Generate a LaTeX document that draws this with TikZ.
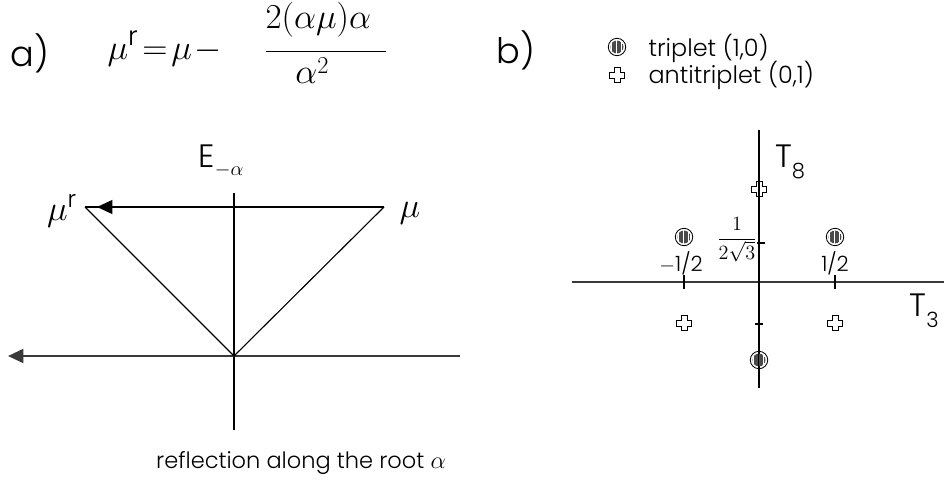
\documentclass[tikz,border=0pt]{standalone}
\usepackage{fontspec}
\setmainfont{Poppins Light}
\usetikzlibrary{arrows.meta, positioning, calc}
\definecolor{axgray}{HTML}{3A3A3A}
\definecolor{stripe}{HTML}{4A4A4A}

\newcommand{\lowsub}[2]{\raisebox{#1}{\fontsize{15}{15}\selectfont #2}}

\tikzset{
  triplet/.pic={
    \draw[line width=0.6pt] (0,0) circle (6.2pt);
    \begin{scope}
      \clip (0,0) circle (4.6pt);
      \foreach \s in {-5,...,5}
        \draw[stripe, line width=0.55pt] (\s*0.9pt,-5pt) -- (\s*0.9pt,5pt);
    \end{scope}
  },
  antitriplet/.pic={
    \draw[line width=0.6pt]
      (-2.1pt,-5.4pt) -- (2.1pt,-5.4pt) -- (2.1pt,-2.1pt) -- (5.4pt,-2.1pt)
      -- (5.4pt,2.1pt) -- (2.1pt,2.1pt) -- (2.1pt,5.4pt) -- (-2.1pt,5.4pt)
      -- (-2.1pt,2.1pt) -- (-5.4pt,2.1pt) -- (-5.4pt,-2.1pt) -- (-2.1pt,-2.1pt)
      -- cycle;
  }
}

\begin{document}
\begin{tikzpicture}[x=0.025cm, y=-0.025cm,
  >={Triangle[length=11pt, width=10pt]}, line width=0.8pt,
  axis/.style={axgray, line width=1.4pt},
  panel/.style={inner sep=0pt, font=\fontsize{25}{28}\selectfont},
  bigmath/.style={inner sep=0pt, font=\fontsize{24}{26}\selectfont},
  axlabel/.style={inner sep=0pt, font=\fontsize{23}{26}\selectfont},
  smalltext/.style={inner sep=0pt, font=\fontsize{17}{19}\selectfont},
  ticktext/.style={inner sep=0pt, font=\fontsize{15}{17}\selectfont}]

\useasboundingbox (0,0) rectangle (944,479);

% ---------- a) reflection ----------
\node[panel] (pa) at (30,53) {a)};
\node[inner sep=0pt, anchor=base west, font=\fontsize{27}{29}\selectfont]
  (formula) at (107,60)
  {$\displaystyle \mu^{\mathrm{r}}\!=\!\mu\!-\hspace{0.92em}
   \frac{2(\alpha\mu)\alpha\hspace{0.38em}\rule[-0.55em]{0pt}{0.55em}}{\alpha^{2}\hspace{0.7em}}$};

\coordinate (O) at (234,356);
\coordinate (mu) at (384,207);
\coordinate (mur) at (85,207);
\coordinate (Etop) at (234,193);
\coordinate (Ebot) at (234,430);
\coordinate (Hright) at (460,356);
\coordinate (Hleft) at (8,356);

\draw (Etop) -- (Ebot);
\draw[axis, ->] (Hright) -- (Hleft);
\draw (mur) -- (O) -- (mu);
\draw (mu) -- (mur);
\draw[->] (mu) -- ([xshift=0.3cm]mur);

\node[axlabel] (Elbl) at (221,161) {E\lowsub{-0.25em}{$-\alpha$}};
\node[bigmath] (murlbl) at (62,211) {$\mu^{\mathrm{r}}$};
\node[bigmath] (mulbl) at (410,213) {$\mu$};
\node[smalltext, font=\fontsize{16}{18}\selectfont] (caption) at (301,463)
  {reflection along the root $\alpha$};

% ---------- b) weights ----------
\node[panel] (pb) at (516,50) {b)};
\pic at (617,47) {triplet};
\node[smalltext, anchor=west] (legtrip) at (648,48) {triplet (1,0)};
\pic at (617,75) {antitriplet};
\node[smalltext, anchor=west] (legatrip) at (648,75) {antitriplet (0,1)};

\coordinate (T0) at (759,282);
\coordinate (T3l) at (572,282);
\coordinate (T3r) at (944,282);
\coordinate (T8t) at (759,130);
\coordinate (T8b) at (759,388);
\draw[axis] (T3l) -- (T3r);
\draw[line width=1.1pt] (T8b) -- (T8t);

% ticks
\foreach \x in {684,835}
  \draw[line width=1pt] (\x,275) -- (\x,289);
\draw[line width=1pt] (757,243) -- (765,243);
\draw[line width=1pt] (755,324) -- (763,324);

% weights
\foreach \p in {(684,237),(835,237),(759,360)}
  \pic at \p {triplet};
\foreach \p in {(759,189),(684,323),(835,323)}
  \pic at \p {antitriplet};

\node[ticktext] (mhalf) at (681,263) {$-$1/2};
\node[ticktext] (phalf) at (835,263) {1/2};
\node[inner sep=0pt, font=\fontsize{13.5}{15}\selectfont] (frac) at (737,240)
  {$\displaystyle\frac{1}{2\sqrt{3}}$};
\node[axlabel] (T8lbl) at (790,162) {T\lowsub{-0.35em}{8}};
\node[axlabel] (T3lbl) at (924,311) {T\lowsub{-0.35em}{3}};

\end{tikzpicture}
\end{document}
